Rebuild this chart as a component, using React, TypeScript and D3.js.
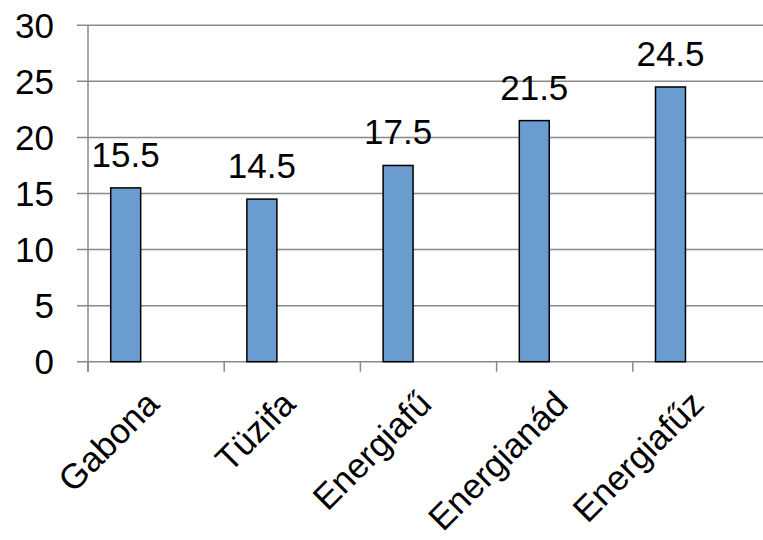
import React from "react";
import * as d3 from "d3";

const categories = ["Gabona", "Tüzifa", "Energiafű", "Energianád", "Energiafűz"];
const values = [15.5, 14.5, 17.5, 21.5, 24.5];
const yTicks = [0, 5, 10, 15, 20, 25, 30];

const W = 763;
const H = 540;
const FONT = "Arial, 'Liberation Sans', sans-serif";

export default function App() {
  const left = 88;
  const bandW = 136.2;
  const x = d3
    .scaleBand<string>()
    .domain(categories)
    .range([left, left + bandW * categories.length])
    .paddingInner(0)
    .paddingOuter(0);
  const y = d3.scaleLinear().domain([0, 30]).range([361.7, 25.3]);
  const bw = x.bandwidth();
  const barOff = bw * 0.1667;
  const barW = bw * 0.22;

  return (
    <svg
      width={W}
      height={H}
      style={{ position: "absolute", left: 0, top: 0, background: "#fff" }}
      fontFamily={FONT}
    >
      {yTicks.map((t) => (
        <line
          key={"g" + t}
          x1={77}
          x2={W}
          y1={y(t)}
          y2={y(t)}
          stroke="#898989"
          strokeWidth={1.5}
        />
      ))}
      <line x1={left} x2={left} y1={y(30)} y2={y(0) + 10} stroke="#898989" strokeWidth={1.5} />
      {categories.map((c) => (
        <line
          key={"t" + c}
          x1={x(c)!}
          x2={x(c)!}
          y1={y(0)}
          y2={y(0) + 10}
          stroke="#898989"
          strokeWidth={1.5}
        />
      ))}
      {yTicks.map((t) => (
        <text
          key={"l" + t}
          x={54}
          y={y(t)}
          dy="0.36em"
          textAnchor="end"
          fontSize={35}
          fill="#000"
        >
          {t}
        </text>
      ))}
      {categories.map((c, i) => (
        <rect
          key={"b" + c}
          x={x(c)! + barOff}
          y={y(values[i])}
          width={barW}
          height={y(0) - y(values[i])}
          fill="#6b9cd0"
          stroke="#000"
          strokeWidth={1.5}
        />
      ))}
      {categories.map((c, i) => (
        <text
          key={"v" + c}
          x={x(c)! + barOff + barW / 2}
          y={y(values[i]) - 21}
          textAnchor="middle"
          fontSize={35}
          fill="#000"
        >
          {values[i]}
        </text>
      ))}
      {categories.map((c) => {
        const cx = x(c)! + bw / 2 + 5;
        const cy = 406;
        return (
          <text
            key={"c" + c}
            transform={`translate(${cx},${cy}) rotate(-45)`}
            textAnchor="end"
            fontSize={35}
            fill="#000"
          >
            {c}
          </text>
        );
      })}
    </svg>
  );
}
